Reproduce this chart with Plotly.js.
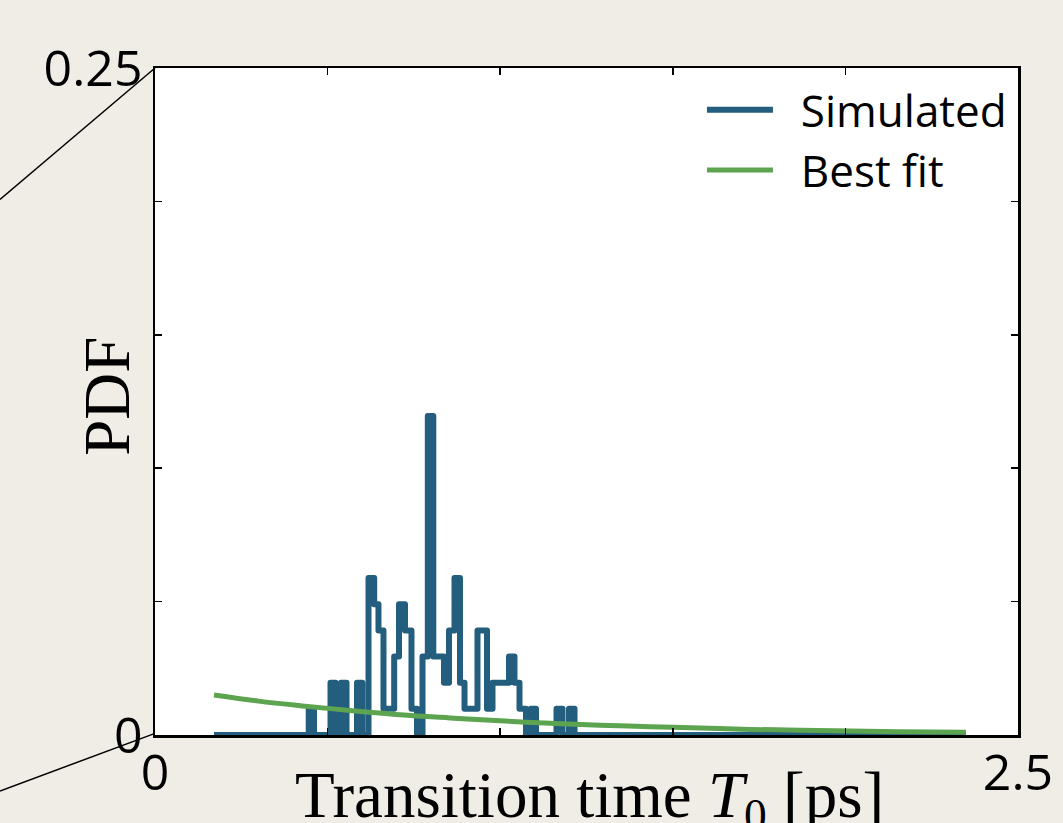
<!DOCTYPE html>
<html>
<head>
<meta charset="utf-8">
<script src="https://cdn.plot.ly/plotly-3.0.1.min.js"></script>
<style>
html,body{margin:0;padding:0;background:#f0ede6;}
#chart{width:1063px;height:823px;}
.scatterlayer .js-line{stroke-linejoin:round;}
</style>
</head>
<body>
<div id="chart"></div>
<script>
// Histogram (step outline): bin edges and PDF heights
const binEdges = [0.1709, 0.4453, 0.4606, 0.5084, 0.5229, 0.5388, 0.5548, 0.5852, 0.6005, 0.6185,
  0.6350, 0.6474, 0.6619, 0.6929, 0.7068, 0.7242, 0.7430, 0.7590, 0.7749, 0.7903,
  0.8062, 0.8372, 0.8517, 0.8676, 0.8835, 0.8966, 0.9342, 0.9618, 0.9777, 1.0255,
  1.0414, 1.0559, 1.0747, 1.0892, 1.1037, 1.1631, 1.1805, 1.1993, 1.2153, 2.3494];
const binHeights = [0, 0.0098, 0, 0.0196, 0, 0.0196, 0, 0.0196, 0, 0.0588,
  0.0490, 0.0392, 0.0098, 0.0294, 0.0490, 0.0392, 0.0098, 0, 0.0294, 0.1196,
  0.0294, 0.0196, 0.0392, 0.0588, 0.0196, 0.0098, 0.0392, 0.0098, 0.0196, 0.0294,
  0.0196, 0.0098, 0, 0.0098, 0, 0.0098, 0, 0.0098, 0];

// Best fit curve
const fitX = [0.171, 0.30, 0.42, 0.565, 0.71, 0.855, 1.0, 1.144, 1.289, 1.434, 1.579, 1.724, 1.868, 2.013, 2.158, 2.349];
const fitY = [0.0150, 0.0127, 0.0110, 0.0092, 0.0076, 0.0064, 0.0053, 0.0044, 0.0037, 0.0031, 0.0026, 0.0021, 0.0018, 0.0015, 0.0012, 0.0010];

const xTickVals = [0, 0.5, 1, 1.5, 2, 2.5];
const xTickText = ['0', '', '', '', '', '2.5'];
const yTickVals = [0, 0.05, 0.1, 0.15, 0.2, 0.25];
const yTickText = ['0', '', '', '', '', '0.25'];

const seriesNames = ['Simulated', 'Best fit'];
const xTitle = 'Transition time <i>T</i><sub>0</sub> [ps]';
const yTitle = 'PDF';

// step outline like a matplotlib 'step' histogram
const stepX = [binEdges[0]];
const stepY = [0];
for (let i = 0; i < binHeights.length; i++) { stepX.push(binEdges[i]); stepY.push(binHeights[i]); }
stepX.push(binEdges[binEdges.length - 1]); stepY.push(binHeights[binHeights.length - 1]);
stepX.push(binEdges[binEdges.length - 1]); stepY.push(0);

const blue = '#245e7e';
const green = '#5ca44f';
const gap = '\u00a0\u00a0';

const traces = [
  {x: stepX, y: stepY, type: 'scatter', mode: 'lines', name: gap + seriesNames[0],
   line: {shape: 'hv', color: blue, width: 6}},
  {x: fitX, y: fitY, type: 'scatter', mode: 'lines', name: gap + seriesNames[1],
   line: {shape: 'spline', color: green, width: 5}}
];

const tickFont = {family: 'Open Sans, Noto Sans, sans-serif', size: 50, color: '#000'};
const titleFont = {family: 'Liberation Serif, serif', size: 65, color: '#000'};

const layout = {
  width: 1063, height: 823,
  margin: {l: 155, r: 45, t: 68, b: 88, pad: 0},
  paper_bgcolor: '#f0ede6',
  plot_bgcolor: '#ffffff',
  showlegend: true,
  legend: {x: 0.993, xanchor: 'right', y: 0.99, yanchor: 'top', bgcolor: 'rgba(0,0,0,0)',
           font: {family: 'Open Sans, Noto Sans, sans-serif', size: 44, color: '#000'},
           itemwidth: 66, tracegroupgap: 0},
  xaxis: {range: [0, 2.5], tickvals: xTickVals, ticktext: xTickText, ticks: 'inside', ticklen: 7,
          tickwidth: 1.5, tickcolor: '#000', showline: true, linewidth: 2.5, linecolor: '#000',
          mirror: 'ticks', showgrid: false, zeroline: false, tickfont: tickFont, automargin: false,
          ticklabelstandoff: -8},
  yaxis: {range: [0, 0.25], tickvals: yTickVals, ticktext: yTickText, ticks: 'inside', ticklen: 7,
          tickwidth: 1.5, tickcolor: '#000', showline: true, linewidth: 2.5, linecolor: '#000',
          mirror: 'ticks', showgrid: false, zeroline: false, tickfont: tickFont, automargin: false},
  annotations: [
    {text: yTitle, xref: 'paper', yref: 'paper', x: -0.056, y: 0.508, xanchor: 'center', yanchor: 'middle',
     textangle: -90, showarrow: false, font: titleFont},
    {text: xTitle, xref: 'paper', yref: 'paper', x: 0.503, y: -0.098, xanchor: 'center', yanchor: 'middle',
     showarrow: false, font: titleFont}
  ],
  shapes: [
    {type: 'line', xref: 'paper', yref: 'paper', x0: -0.1796, y0: 0.803, x1: 0, y1: 1.0,
     line: {color: '#000', width: 1.5}, layer: 'above'},
    {type: 'line', xref: 'paper', yref: 'paper', x0: -0.1796, y0: -0.084, x1: 0, y1: 0.0025,
     line: {color: '#000', width: 1.5}, layer: 'above'}
  ]
};

Plotly.newPlot('chart', traces, layout, {displayModeBar: false, staticPlot: true});
</script>
</body>
</html>
